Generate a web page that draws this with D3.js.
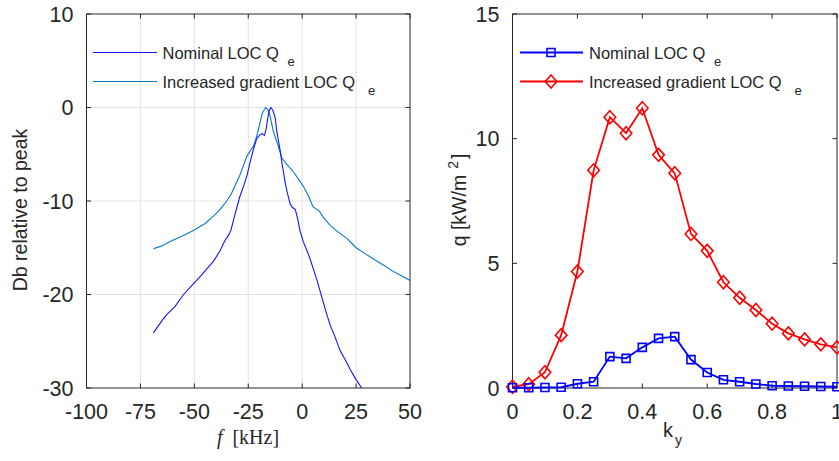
<!DOCTYPE html>
<html>
<head>
<meta charset="utf-8">
<script src="https://cdn.jsdelivr.net/npm/d3@7"></script>
<style>
  body { margin: 0; background: #fff; }
  svg text { font-family: "Liberation Sans", Arial, sans-serif; fill: #262626; }
  .serif { font-family: "Liberation Serif", "Times New Roman", serif; }
</style>
</head>
<body>
<div id="chart"></div>
<script>
// ---- left panel: spectra (f in kHz, dB relative to peak)
var nominalF  = [-69, -65, -62.6, -59, -55, -51, -47, -44, -41, -38, -36, -34, -33, -31, -29, -27, -25.5, -24, -22.5, -21, -19.5, -18.5, -17.5, -16.7, -16, -15.2, -14.5, -13.6, -12.5, -11.8, -10.2, -9.4, -7.9, -7, -5.6, -4.5, -3.2, -2, -1, 0.6, 2.2, 3.7, 5.5, 6.8, 9, 11, 13, 15, 17.6, 20.7, 22.2, 25, 27.6, 29];
var nominalDb = [-24.1, -22.8, -22.1, -21.3, -20.0, -19.0, -18.0, -17.2, -16.4, -15.3, -14.3, -13.6, -13.1, -11.3, -9.6, -8.3, -7.2, -5.7, -4.4, -3.3, -2.9, -2.8, -3.0, -2.3, -1.2, -0.3, 0, -0.3, -1.1, -2.5, -4.6, -5.9, -8.0, -9.0, -10.3, -10.7, -10.9, -12.0, -13.2, -14.4, -15.3, -16.2, -17.5, -18.4, -20.2, -21.8, -23.3, -24.4, -26.0, -27.3, -28.0, -29.1, -30.0, -30.5];

var increasedF  = [-69, -65, -61, -56, -50, -45, -41, -38, -35, -33, -29, -25.6, -22.5, -21, -19.4, -18.5, -17, -16, -15, -13.3, -11, -9.4, -7, -4, -1, 1, 3, 5, 8, 10, 13, 16, 20.7, 25, 29, 33, 38, 42, 46, 50];
var increasedDb = [-15.1, -14.8, -14.3, -13.8, -13.1, -12.4, -11.6, -10.9, -10.0, -9.3, -7.3, -5.2, -4.1, -3.0, -1.5, -0.6, 0, -0.2, -0.8, -2.6, -4.2, -5.4, -6.1, -6.9, -7.9, -8.6, -9.5, -10.6, -11.1, -11.8, -12.6, -13.2, -14.0, -15.0, -15.6, -16.2, -16.9, -17.5, -18.0, -18.5];

var fTicks  = [-100, -75, -50, -25, 0, 25, 50];
var dbTicks = [-30, -20, -10, 0, 10];

// ---- right panel: flux spectra q vs k_y
var ky        = [0, 0.05, 0.1, 0.15, 0.2, 0.25, 0.3, 0.35, 0.4, 0.45, 0.5, 0.55, 0.6, 0.65, 0.7, 0.75, 0.8, 0.85, 0.9, 0.95, 1.0];
var qNominal  = [0.01, 0.01, 0.02, 0.03, 0.17, 0.25, 1.26, 1.19, 1.63, 1.99, 2.06, 1.14, 0.62, 0.33, 0.25, 0.16, 0.09, 0.08, 0.07, 0.06, 0.05];
var qIncrease = [0.05, 0.15, 0.63, 2.12, 4.67, 8.73, 10.86, 10.22, 11.22, 9.35, 8.61, 6.18, 5.5, 4.24, 3.62, 3.13, 2.58, 2.19, 1.95, 1.75, 1.63];

var kyTicks = [0, 0.2, 0.4, 0.6, 0.8, 1];
var qTicks  = [0, 5, 10, 15];

var W = 839, H = 461;
var plotTop = 14, plotBottom = 388;
var tickLen = 4.5;
var axisColor = "#262626";

var svg = d3.select("#chart").append("svg")
    .attr("width", W)
    .attr("height", H);

function drawFrame(g, x, y, xTicks, yTicks, xFmt, yFmt, grid) {
    var x0 = x.range()[0], x1 = x.range()[1];
    var y0 = y.range()[0], y1 = y.range()[1];

    if (grid) {
        g.append("g").selectAll("line.gx")
            .data(xTicks.slice(1, -1)).enter().append("line")
            .attr("x1", d => x(d)).attr("x2", d => x(d))
            .attr("y1", y1).attr("y2", y0)
            .attr("stroke", "#e3e3e3").attr("stroke-width", 1);
        g.append("g").selectAll("line.gy")
            .data(yTicks.slice(1, -1)).enter().append("line")
            .attr("x1", x0).attr("x2", x1)
            .attr("y1", d => y(d)).attr("y2", d => y(d))
            .attr("stroke", "#e3e3e3").attr("stroke-width", 1);
    }

    // inward ticks on all four sides
    var t = g.append("g").attr("stroke", axisColor).attr("stroke-width", 1);
    xTicks.forEach(function(d) {
        t.append("line").attr("x1", x(d)).attr("x2", x(d)).attr("y1", y0).attr("y2", y0 - tickLen);
        t.append("line").attr("x1", x(d)).attr("x2", x(d)).attr("y1", y1).attr("y2", y1 + tickLen);
    });
    yTicks.forEach(function(d) {
        t.append("line").attr("x1", x0).attr("x2", x0 + tickLen).attr("y1", y(d)).attr("y2", y(d));
        t.append("line").attr("x1", x1).attr("x2", x1 - tickLen).attr("y1", y(d)).attr("y2", y(d));
    });

    g.append("rect")
        .attr("x", x0).attr("y", y1)
        .attr("width", x1 - x0).attr("height", y0 - y1)
        .attr("fill", "none").attr("stroke", axisColor).attr("stroke-width", 1);

    g.append("g").selectAll("text")
        .data(xTicks).enter().append("text")
        .attr("x", d => x(d)).attr("y", 419)
        .attr("text-anchor", "middle")
        .style("font-size", "21.5px")
        .text(xFmt);

    g.append("g").selectAll("text")
        .data(yTicks).enter().append("text")
        .attr("x", x0 - 13).attr("y", d => y(d))
        .attr("dy", "0.36em")
        .attr("text-anchor", "end")
        .style("font-size", "21.5px")
        .text(yFmt);
}

function legendLabel(g, x, y, main, subDx) {
    var t = g.append("text")
        .attr("x", x).attr("y", y)
        .style("font-size", "16.5px");
    t.append("tspan").text(main);
    t.append("tspan").attr("dx", subDx).attr("dy", 7)
        .style("font-size", "13px").text("e");
}

// ================= left panel
var xL = d3.scaleLinear().domain([-100, 50]).range([86.5, 410]);
var yL = d3.scaleLinear().domain([-30, 10]).range([plotBottom, plotTop]);

var left = svg.append("g");
left.append("clipPath").attr("id", "clipL")
    .append("rect")
    .attr("x", 86.5).attr("y", plotTop)
    .attr("width", 410 - 86.5).attr("height", plotBottom - plotTop);

drawFrame(left, xL, yL, fTicks, dbTicks, d => d, d => d, true);

var lineL = d3.line()
    .x(d => xL(d[0]))
    .y(d => yL(d[1]));

left.append("path")
    .datum(d3.zip(increasedF, increasedDb))
    .attr("clip-path", "url(#clipL)")
    .attr("d", lineL)
    .attr("fill", "none")
    .attr("stroke", "#0a78c4")
    .attr("stroke-width", 1.1);

left.append("path")
    .datum(d3.zip(nominalF, nominalDb))
    .attr("clip-path", "url(#clipL)")
    .attr("d", lineL)
    .attr("fill", "none")
    .attr("stroke", "#1414ff")
    .attr("stroke-width", 1.1);

// left legend
left.append("line").attr("x1", 93).attr("x2", 157).attr("y1", 52.5).attr("y2", 52.5)
    .attr("stroke", "#1414ff").attr("stroke-width", 1.1);
left.append("line").attr("x1", 93).attr("x2", 157).attr("y1", 81.5).attr("y2", 81.5)
    .attr("stroke", "#0a78c4").attr("stroke-width", 1.1);
legendLabel(left, 162.5, 58.5, "Nominal LOC Q", 8.5);
legendLabel(left, 162.5, 87.5, "Increased gradient LOC Q", 13);

left.append("text")
    .attr("transform", "translate(27,210) rotate(-90)")
    .attr("text-anchor", "middle")
    .style("font-size", "19.5px")
    .text("Db relative to peak");

var fl = left.append("text")
    .attr("class", "serif")
    .attr("x", 248).attr("y", 444)
    .attr("text-anchor", "middle")
    .style("font-size", "20px");
fl.append("tspan").style("font-style", "italic").text("f");
fl.append("tspan").attr("dx", 10).text("[kHz]");

// ================= right panel
var xR = d3.scaleLinear().domain([0, 1]).range([512.5, 837]);
var yR = d3.scaleLinear().domain([0, 15]).range([plotBottom, plotTop]);

var right = svg.append("g");
drawFrame(right, xR, yR, kyTicks, qTicks, d => d, d => d, false);

var lineR = d3.line()
    .x(d => xR(d[0]))
    .y(d => yR(d[1]));

var squarePath = "M-4,-4H4V4H-4Z";
var diamondPath = "M0,-6.5L5.8,0L0,6.5L-5.8,0Z";

function drawSeries(g, xs, ys, color, shape) {
    var pts = d3.zip(xs, ys);
    g.append("path")
        .datum(pts)
        .attr("d", lineR)
        .attr("fill", "none")
        .attr("stroke", color)
        .attr("stroke-width", 1.8);
    g.append("g").selectAll("path")
        .data(pts).enter().append("path")
        .attr("transform", d => "translate(" + xR(d[0]) + "," + yR(d[1]) + ")")
        .attr("d", shape)
        .attr("fill", "none")
        .attr("stroke", color)
        .attr("stroke-width", 1.6);
}

drawSeries(right, ky, qIncrease, "#ff0000", diamondPath);
drawSeries(right, ky, qNominal, "#0000ff", squarePath);

// right legend
right.append("line").attr("x1", 520).attr("x2", 583).attr("y1", 52.5).attr("y2", 52.5)
    .attr("stroke", "#0000ff").attr("stroke-width", 1.8);
right.append("path").attr("d", squarePath).attr("transform", "translate(551,52.5)")
    .attr("fill", "none").attr("stroke", "#0000ff").attr("stroke-width", 1.6);
right.append("line").attr("x1", 520).attr("x2", 583).attr("y1", 81.5).attr("y2", 81.5)
    .attr("stroke", "#ff0000").attr("stroke-width", 1.8);
right.append("path").attr("d", diamondPath).attr("transform", "translate(551,81.5)")
    .attr("fill", "none").attr("stroke", "#ff0000").attr("stroke-width", 1.6);
legendLabel(right, 589, 58.5, "Nominal LOC Q", 8.5);
legendLabel(right, 589, 87.5, "Increased gradient LOC Q", 13);

var ql = right.append("text")
    .attr("transform", "translate(466,200) rotate(-90)")
    .attr("text-anchor", "middle")
    .style("font-size", "19.5px");
ql.append("tspan").text("q [kW/m");
ql.append("tspan").attr("dx", 6).attr("dy", -8).style("font-size", "14px").text("2");
ql.append("tspan").attr("dx", 2).attr("dy", 8).text("]");

var kl = right.append("text")
    .attr("x", 663).attr("y", 437)
    .style("font-size", "20px");
kl.append("tspan").text("k");
kl.append("tspan").attr("dx", 2).attr("dy", 8).style("font-size", "14px").text("y");
</script>
</body>
</html>
